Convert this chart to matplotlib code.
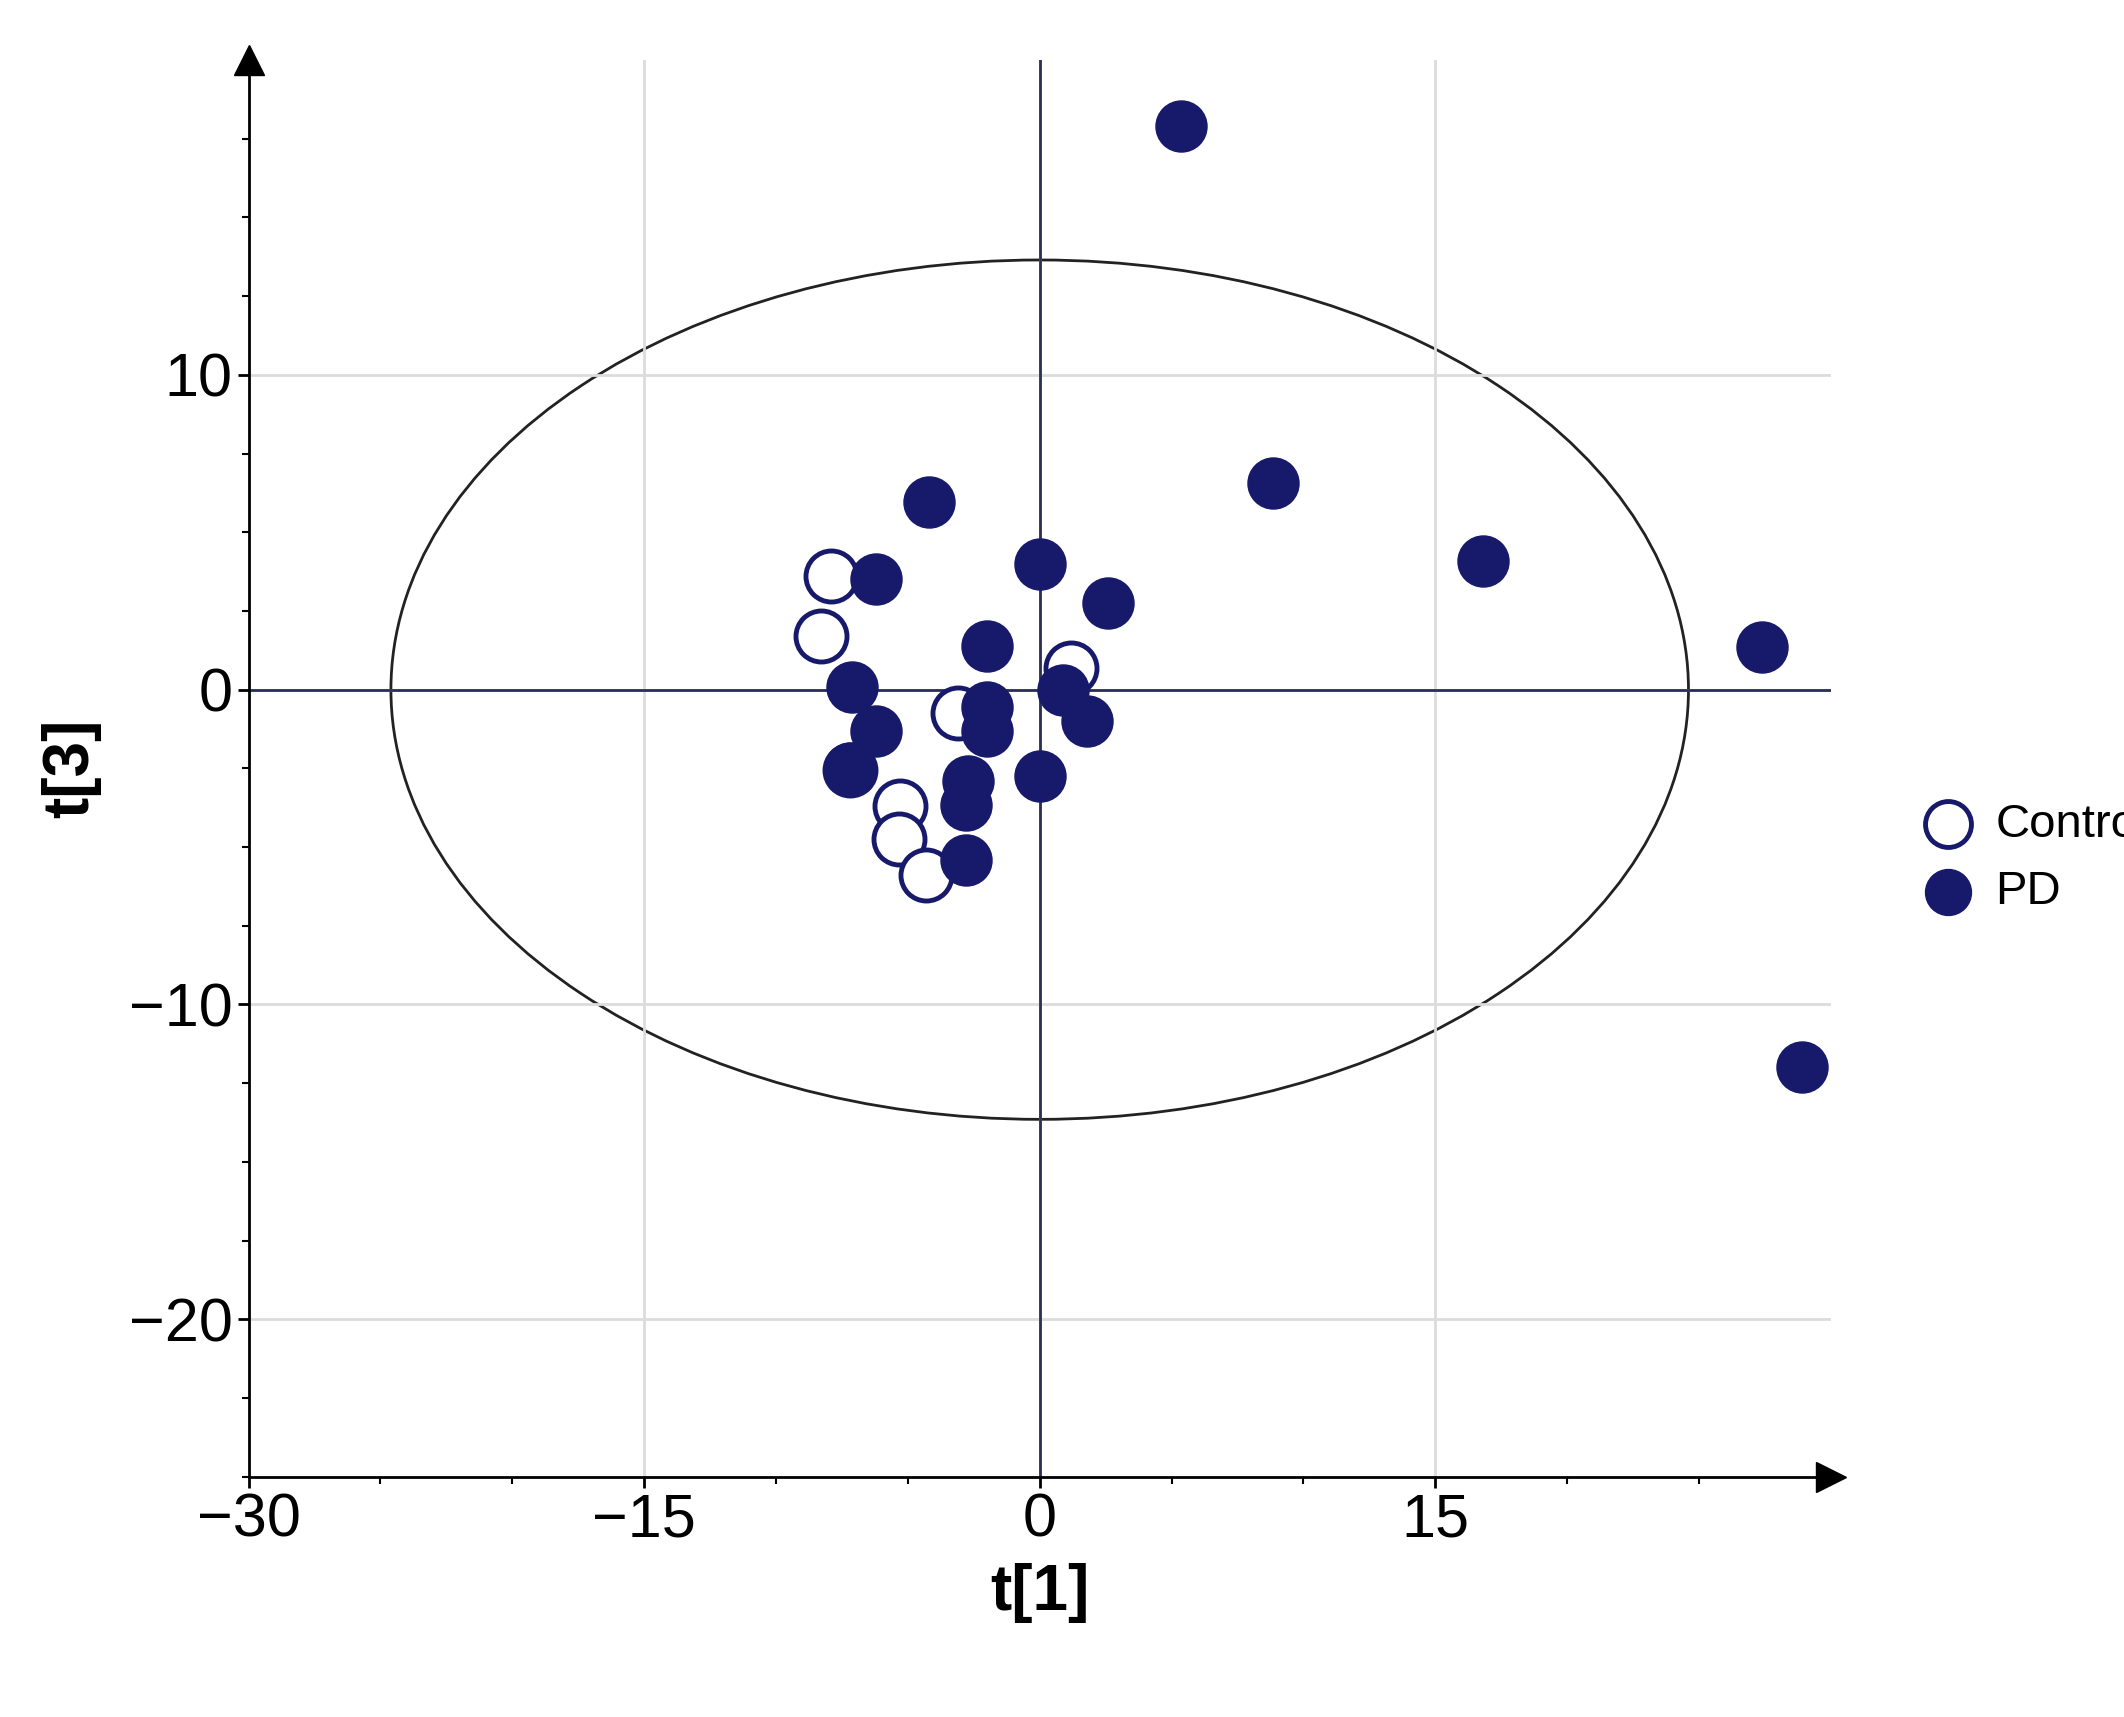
import matplotlib
matplotlib.use("Agg")
import matplotlib.pyplot as plt
from matplotlib.patches import Ellipse
from matplotlib.ticker import MultipleLocator

plt.rcParams['font.family'] = ['Liberation Sans', 'DejaVu Sans']

pd_x = [5.35, 8.85, 16.8, 27.4, 28.9, -4.2, -6.2, 0.0, 2.6, -2.0, -7.1, -6.2, -2.0, -2.0, 0.9, 1.8, 0.0, -2.7, -2.8, -2.8, -7.2]
pd_y = [17.9, 6.55, 4.1, 1.35, -12.0, 5.95, 3.5, 4.0, 2.75, 1.4, 0.1, -1.3, -0.55, -1.3, 0.0, -1.0, -2.75, -2.9, -3.65, -5.4, -2.5]
ctrl_x = [-7.9, -8.3, -7.2, -5.3, -5.35, -4.3, -3.1, 1.2]
ctrl_y = [3.6, 1.7, -2.55, -3.7, -4.75, -5.9, -0.75, 0.7]
ell_w, ell_h = 49.2, 27.3

navy = "#17196b"
fig = plt.figure(figsize=(21.24, 17.17), dpi=100)
ax = fig.add_axes([0.117, 0.14, 0.745, 0.825])
ax.set_xlim(-30, 30)
ax.set_ylim(-25, 20)
ax.grid(True, color="#dcdcdc", lw=2)
ax.set_xticks([-30, -15, 0, 15])
ax.set_yticks([-20, -10, 0, 10])
ax.xaxis.set_minor_locator(MultipleLocator(5))
ax.yaxis.set_minor_locator(MultipleLocator(2.5))
for s in ["top", "right"]:
    ax.spines[s].set_visible(False)
for s in ["left", "bottom"]:
    ax.spines[s].set_linewidth(2)
ax.tick_params(which="major", length=8, width=2, labelsize=44)
ax.tick_params(which="minor", length=5, width=1.5)
ax.axhline(0, color="#2a2f55", lw=2)
ax.axvline(0, color="#2a2f55", lw=2)
ax.add_patch(Ellipse((0, 0), ell_w, ell_h, fill=False, ec="#222222", lw=2))
ax.plot(1, 0, ">k", ms=22, transform=ax.transAxes, clip_on=False)
ax.plot(0, 1, "^k", ms=22, transform=ax.transAxes, clip_on=False)
ax.scatter(ctrl_x, ctrl_y, s=1350, facecolor="white", edgecolor=navy, lw=3.5, zorder=3, label="Control", clip_on=False)
ax.scatter(pd_x, pd_y, s=1350, color=navy, zorder=4, label="PD", clip_on=False)
ax.set_xlabel("t[1]", fontsize=46, fontweight="bold", labelpad=10)
ax.set_ylabel("t[3]", fontsize=46, fontweight="bold", labelpad=20)
fig.legend(loc="center left", bbox_to_anchor=(0.875, 0.5), frameon=False,
           fontsize=34, handletextpad=0.0, markerscale=0.9, labelspacing=0.5)
fig.savefig("out.png", dpi=100, facecolor="white")
